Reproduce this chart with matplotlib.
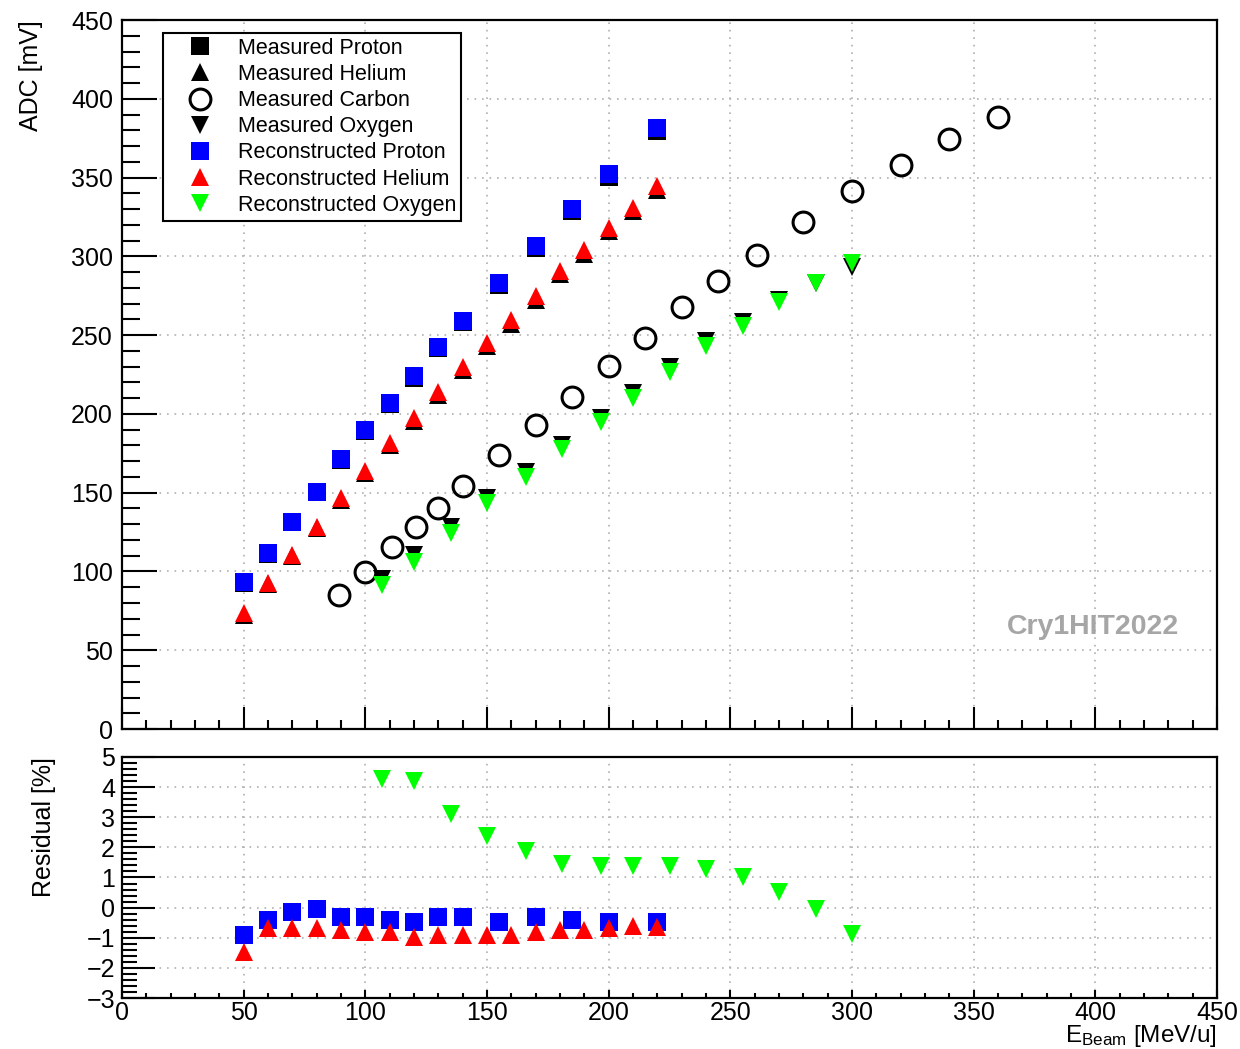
import matplotlib.pyplot as plt
from matplotlib.ticker import MultipleLocator

plt.rcParams['font.family'] = ['Liberation Sans', 'DejaVu Sans']
plt.rcParams['mathtext.default'] = 'regular'

# beam energies [MeV/u]
proton_e = [50, 60, 70, 80, 90, 100, 110, 120, 130, 140, 155, 170, 185, 200, 220]
helium_e = [50, 60, 70, 80, 90, 100, 110, 120, 130, 140, 150, 160, 170, 180, 190, 200, 210, 220]
carbon_e = [89, 100, 111, 121, 130, 140, 155, 170, 185, 200, 215, 230, 245, 261, 280, 300, 320, 340, 360]
oxygen_e = [107, 120, 135, 150, 166, 181, 197, 210, 225, 240, 255, 270, 285, 300]

# measured ADC amplitude [mV]
proton_meas = [92.5, 111.3, 131.2, 150.4, 170.9, 189.2, 206.1, 222.9, 241.7, 258.1, 281.8, 305.6, 328.7, 350.5, 379.6]
helium_meas = [72.5, 92.1, 109.7, 127.3, 145.5, 162.4, 180.0, 195.5, 211.9, 227.7, 242.8, 257.2, 272.5, 288.5,
               301.7, 315.9, 328.7, 342.4]
carbon_meas = [85.0, 99.6, 115.5, 128.2, 140.3, 154.2, 173.9, 192.9, 210.7, 230.4, 248.2, 267.8, 284.3, 300.8,
               321.8, 341.5, 358.0, 374.5, 388.4]
oxygen_meas = [95.3, 110.5, 128.3, 146.8, 162.9, 180.3, 197.5, 213.0, 229.7, 246.2, 258.4, 272.4, 283.0, 293.2]

# reconstructed ADC amplitude [mV]
proton_reco = [93.3, 111.7, 131.4, 150.4, 171.4, 189.8, 206.9, 224.0, 242.4, 258.9, 283.1, 306.5, 330.0, 352.2, 381.4]
helium_reco = [73.6, 92.7, 110.4, 128.2, 146.6, 163.7, 181.5, 197.4, 213.9, 229.8, 245.0, 259.6, 274.8, 290.7,
               304.0, 318.0, 330.7, 344.6]
oxygen_reco = [91.4, 106.0, 124.4, 143.4, 159.9, 177.7, 194.8, 210.1, 226.6, 243.1, 255.8, 271.0, 283.1, 295.8]

# residuals [%]
proton_res = [-0.9, -0.4, -0.15, -0.03, -0.3, -0.3, -0.4, -0.47, -0.3, -0.3, -0.47, -0.3, -0.4, -0.47, -0.47]
helium_res = [-1.46, -0.67, -0.67, -0.67, -0.75, -0.82, -0.82, -0.97, -0.91, -0.91, -0.91, -0.91, -0.82, -0.75,
              -0.75, -0.67, -0.6, -0.65]
oxygen_res = [4.27, 4.2, 3.11, 2.38, 1.88, 1.45, 1.38, 1.38, 1.38, 1.28, 1.02, 0.52, -0.05, -0.88]

BLUE, RED, GREEN = '#0000ff', '#ff0000', '#00ff00'
MS = 13


def root_style(ax, ymaj, ymin, ylen, xlen, ypad, xpad):
    for s in ['left', 'bottom']:
        ax.spines[s].set_linewidth(1.6)
    for s in ['top', 'right']:
        ax.spines[s].set_linewidth(1.6)
        ax.spines[s].set_linestyle((0, (2, 1)))
    ax.xaxis.set_major_locator(MultipleLocator(50))
    ax.xaxis.set_minor_locator(MultipleLocator(10))
    ax.yaxis.set_major_locator(MultipleLocator(ymaj))
    ax.yaxis.set_minor_locator(MultipleLocator(ymin))
    ax.tick_params(which='both', direction='in', width=1.5, top=False, right=False, labelsize=18)
    ax.tick_params(axis='y', which='major', length=ylen[0], pad=ypad)
    ax.tick_params(axis='y', which='minor', length=ylen[1])
    ax.tick_params(axis='x', which='major', length=xlen[0], pad=xpad)
    ax.tick_params(axis='x', which='minor', length=xlen[1])
    ax.grid(True, which='major', color='#b0b0b0', linestyle=(0, (1, 3.5)), linewidth=1.2)
    ax.set_axisbelow(True)


fig = plt.figure(figsize=(12.4, 10.49), dpi=100)
ax1 = fig.add_axes([0.0984, 0.3050, 0.8831, 0.6759])
ax2 = fig.add_axes([0.0984, 0.0486, 0.8831, 0.2298])

# upper pad: ADC vs beam energy
h1, = ax1.plot(proton_e, proton_meas, 's', color='k', ms=MS, mew=0, label='Measured Proton')
h2, = ax1.plot(helium_e, helium_meas, '^', color='k', ms=MS, mew=0, label='Measured Helium')
h3, = ax1.plot(carbon_e, carbon_meas, 'o', mfc='none', mec='k', ms=15, mew=2.2, label='Measured Carbon')
h4, = ax1.plot(oxygen_e, oxygen_meas, 'v', color='k', ms=MS, mew=0, label='Measured Oxygen')
h5, = ax1.plot(proton_e, proton_reco, 's', color=BLUE, ms=MS, mew=0, label='Reconstructed Proton')
h6, = ax1.plot(helium_e, helium_reco, '^', color=RED, ms=MS, mew=0, label='Reconstructed Helium')
h7, = ax1.plot(oxygen_e, oxygen_reco, 'v', color=GREEN, ms=MS, mew=0, label='Reconstructed Oxygen')

ax1.set_xlim(0, 450)
ax1.set_ylim(0, 450)
root_style(ax1, 50, 10, (25, 13), (16, 6.5), 6.5, 2.5)
ax1.tick_params(axis='x', labelbottom=False)
ax1.set_ylabel('ADC [mV]', loc='top', fontsize=18)
ax1.yaxis.set_label_coords(-0.072, 1.0)

leg = ax1.legend(handles=[h1, h2, h3, h4, h5, h6, h7], loc='upper left',
                 bbox_to_anchor=(0.1315, 0.9685), bbox_transform=fig.transFigure,
                 borderaxespad=0, fontsize=15.5, numpoints=1, handlelength=3.0,
                 handletextpad=0.27, labelspacing=0.24, borderpad=0.22,
                 fancybox=False, framealpha=1, edgecolor='k')
leg.get_frame().set_linewidth(1.5)

ax1.text(399, 65, 'Cry1HIT2022', color='#a6a6a6', fontsize=20.5, fontweight='bold',
         ha='center', va='center')

# lower pad: residuals
ax2.plot(proton_e, proton_res, 's', color=BLUE, ms=MS, mew=0)
ax2.plot(helium_e, helium_res, '^', color=RED, ms=MS, mew=0)
ax2.plot(oxygen_e, oxygen_res, 'v', color=GREEN, ms=MS, mew=0)

ax2.set_xlim(0, 450)
ax2.set_ylim(-3, 5)
root_style(ax2, 1, 0.2, (24, 11), (6, 3.6), 5, 2.5)
ax2.set_ylabel('Residual [%]', loc='top', fontsize=18)
ax2.yaxis.set_label_coords(-0.060, 1.0)
ax2.set_xlabel('E$_{Beam}$ [MeV/u]', loc='right', fontsize=17.5)
ax2.xaxis.set_label_coords(1.0, -0.105)
ax2.xaxis.label.set_va('top')

fig.savefig('out.png', dpi=100)
